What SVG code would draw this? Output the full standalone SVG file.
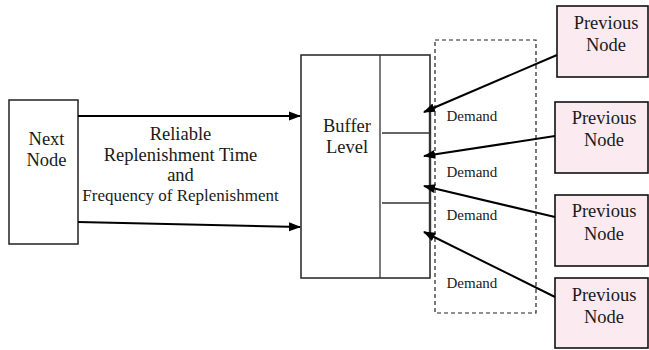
<svg xmlns="http://www.w3.org/2000/svg" width="649" height="350" viewBox="0 0 649 350" font-family="'Liberation Serif', 'Times New Roman', serif">
<style>
text{fill:#1a1a1a}
.t{font-size:18.5px;text-anchor:middle}
.d{font-size:15px}
.box{fill:#fff;stroke:#222;stroke-width:1.5}
.prev{fill:#fbeaf0;stroke:#111;stroke-width:1.6}
.ln{stroke:#333;stroke-width:1.3;fill:none}
.ar{stroke:#000;stroke-width:2;fill:none;marker-end:url(#ah)}
</style>
<defs>
<marker id="ah" markerWidth="12" markerHeight="10" refX="11" refY="5" orient="auto" markerUnits="userSpaceOnUse">
<path d="M0,0.5 L12,5 L0,9.5 Z" fill="#000"/>
</marker>
</defs>
<g id="next-node">
<rect class="box" x="9" y="100" width="69" height="144"/>
<text class="t" x="46.5" y="145">Next</text>
<text class="t" x="46.5" y="166">Node</text>
</g>
<g id="buffer">
<rect class="box" x="301" y="55" width="129" height="223"/>
<line class="ln" x1="380" y1="55" x2="380" y2="278"/>
<line class="ln" x1="382" y1="133" x2="430" y2="133"/>
<line class="ln" x1="382" y1="203" x2="430" y2="203"/>
<line x1="430" y1="110" x2="430" y2="238" stroke="#333" stroke-width="2.4"/>
<text class="t" x="347" y="132">Buffer</text>
<text class="t" x="347" y="153">Level</text>
</g>
<g id="demand">
<rect x="435" y="40" width="101" height="273" fill="none" stroke="#222" stroke-width="1.2" stroke-dasharray="4,3"/>
<text class="d" x="446.5" y="121">Demand</text>
<text class="d" x="446.5" y="177">Demand</text>
<text class="d" x="446.5" y="220">Demand</text>
<text class="d" x="446.5" y="288">Demand</text>
</g>
<g id="prev1">
<rect class="prev" x="557" y="6" width="91" height="71"/>
<text class="t" x="606" y="29">Previous</text>
<text class="t" x="606" y="51">Node</text>
</g>
<g id="prev2">
<rect class="prev" x="555" y="102" width="93" height="71"/>
<text class="t" x="604" y="124">Previous</text>
<text class="t" x="604" y="146">Node</text>
</g>
<g id="prev3">
<rect class="prev" x="555" y="195" width="93" height="71"/>
<text class="t" x="604" y="217">Previous</text>
<text class="t" x="604" y="240">Node</text>
</g>
<g id="prev4">
<rect class="prev" x="555" y="278" width="93" height="70"/>
<text class="t" x="604" y="301">Previous</text>
<text class="t" x="604" y="323">Node</text>
</g>
<g id="label">
<text class="t" x="180.5" y="140">Reliable</text>
<text class="t" x="180.5" y="161">Replenishment Time</text>
<text class="t" x="180.5" y="181">and</text>
<text class="t" x="180.5" y="201" style="font-size:17px">Frequency of Replenishment</text>
</g>
<g id="connectors">
<line class="ar" x1="78" y1="116" x2="300" y2="116"/>
<line class="ar" x1="78" y1="222" x2="300" y2="227"/>
<line class="ar" x1="557" y1="55" x2="424" y2="112"/>
<line class="ar" x1="555" y1="136" x2="424" y2="156"/>
<line class="ar" x1="555" y1="217" x2="424" y2="186"/>
<line class="ar" x1="555" y1="297" x2="424" y2="232"/>
</g>
</svg>
